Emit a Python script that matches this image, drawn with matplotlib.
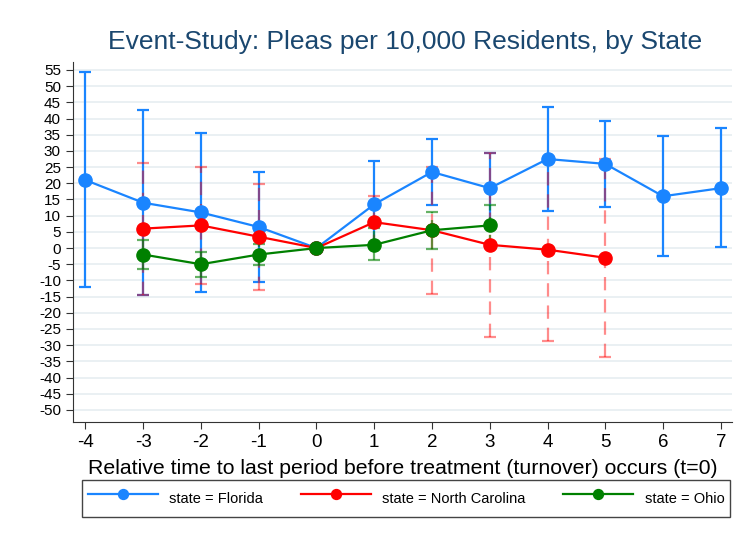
import numpy as np
import matplotlib
matplotlib.use("Agg")
import matplotlib.pyplot as plt

plt.rcParams['font.family'] = ['Liberation Sans', 'DejaVu Sans']
plt.rcParams['axes.unicode_minus'] = False

# ---- data ----
fl_time = [-4, -3, -2, -1, 0, 1, 2, 3, 4, 5, 6, 7]
fl_coef = [21, 14, 11, 6.5, 0, 13.5, 23.5, 18.5, 27.5, 26, 16, 18.5]
fl_lo = [-12, -14.5, -13.5, -10.5, 0, 0, 13.3, 7.5, 11.4, 12.7, -2.4, 0.3]
fl_hi = [54.3, 42.5, 35.5, 23.5, 0, 27, 33.6, 29.5, 43.6, 39.2, 34.6, 37]

nc_time = [-3, -2, -1, 0, 1, 2, 3, 4, 5]
nc_coef = [6, 7, 3.5, 0, 8, 5.5, 1, -0.5, -3]
nc_lo = [-14.5, -11, -12.9, 0, 0, -14.2, -27.4, -28.7, -33.6]
nc_hi = [26.3, 25, 19.7, 0, 16, 25, 29.5, 27.7, 27.4]

oh_time = [-3, -2, -1, 0, 1, 2, 3]
oh_coef = [-2, -5, -2, 0, 1, 5.5, 7]
oh_lo = [-6.5, -8.9, -5.2, 0, -3.7, -0.3, 0.7]
oh_hi = [2.6, -1.1, 1.2, 0, 6.2, 11.1, 13.3]

series = [
    ("state = Florida", fl_time, fl_coef, fl_lo, fl_hi, "#1a85ff", 1.0, "-"),
    ("state = North Carolina", nc_time, nc_coef, nc_lo, nc_hi, "#ff0000", 0.45, (0, (6, 4))),
    ("state = Ohio", oh_time, oh_coef, oh_lo, oh_hi, "#008000", 0.6, (0, (5, 3))),
]

fig = plt.figure(figsize=(7.42, 5.43), dpi=100)
ax = fig.add_axes([0.098, 0.223, 0.889, 0.663])

# confidence intervals first
for name, t, c, lo, hi, col, alpha, ls in series:
    t = np.array(t); c = np.array(c); lo = np.array(lo); hi = np.array(hi)
    keep = t != 0
    eb = ax.errorbar(t[keep], c[keep], yerr=[c[keep] - lo[keep], hi[keep] - c[keep]],
                     fmt='none', ecolor=col, elinewidth=1.6, capsize=4.5,
                     capthick=1.6, alpha=alpha, zorder=2)
    eb[2][0].set_linestyle(ls)

# point estimates
handles = []
for name, t, c, lo, hi, col, alpha, ls in series:
    h, = ax.plot(t, c, '-o', color=col, lw=1.6, ms=9.5, label=name, zorder=3)
    handles.append(h)

ax.set_xlim(-4.22, 7.2)
ax.set_ylim(-53.7, 57.5)
ax.set_xticks(range(-4, 8))
ax.set_yticks(range(-50, 56, 5))
ax.tick_params(axis='y', labelsize=11, length=5, color='#333333')
ax.tick_params(axis='x', labelsize=13.5, length=5, color='#333333')
ax.grid(axis='y', color='#eaf0f3', lw=1.4)
ax.set_axisbelow(True)
for s in ['top', 'right']:
    ax.spines[s].set_visible(False)
for s in ['left', 'bottom']:
    ax.spines[s].set_color('#333333')

ax.set_xlabel("Relative time to last period before treatment (turnover) occurs (t=0)",
              fontsize=15.3, labelpad=6)
fig.text(0.546, 0.923, "Event-Study: Pleas per 10,000 Residents, by State",
         ha='center', va='center', fontsize=19, color='#1a476f')

leg = fig.legend(handles=handles, loc='center', ncol=3, mode='expand',
                 bbox_to_anchor=(0.1105, 0.0405, 0.8735, 0.083),
                 fancybox=False, edgecolor='#444444', fontsize=10.5,
                 handlelength=4.8, handleheight=2.3, borderaxespad=0,
                 framealpha=1, borderpad=0.4, markerscale=0.75)
leg.get_frame().set_linewidth(1.0)

fig.savefig("out.png", dpi=100)
